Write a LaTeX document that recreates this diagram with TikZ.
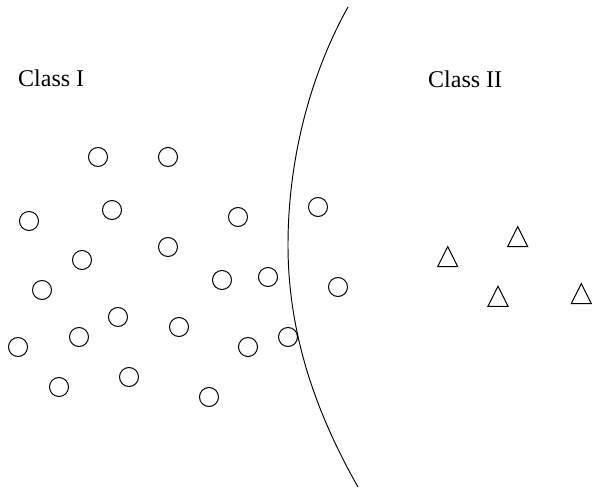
\documentclass[tikz,border=0pt]{standalone}
\usepackage{fontspec}
\setmainfont{Liberation Serif}
\begin{document}
\begin{tikzpicture}[x=1pt,y=-1pt,
  dot/.style={draw,circle,minimum size=19pt,inner sep=0pt,line width=1pt},
  tri/.style={draw,line width=1pt},
  bound/.style={draw,line width=0.95pt},
  lbl/.style={font=\fontsize{24}{29}\selectfont,anchor=base west,inner sep=0pt}]
\useasboundingbox (0,0) rectangle (592,489);
% labels
\node[lbl] (c1) at (18,87) {Class I};
\node[lbl] (c2) at (428,88) {Class II};
% class I points
\foreach \n/\x/\y in {a/98/157, b/168/157, c/29/221, d/112/210, e/238/217, f/318/207,
  g/82/260, h/168/247, i/42/290, j/222/280, k/268/277, l/338/287, m/118/317,
  n/179/327, o/79/337, p/18/347, q/248/347, r/288/337, s/59/387, t/129/377, u/209/397}
  \node[dot] (p\n) at (\x,\y) {};
% class II points
\foreach \n/\x/\y in {1/447.7/256.7, 2/517.7/236.7, 3/498/296.3, 4/581.3/293.7}{
  \coordinate (t\n) at (\x,\y);
  \draw[tri] ([shift={(-10,10)}]t\n) -- ([shift={(0,-10)}]t\n) -- ([shift={(10,10)}]t\n) -- cycle;
}
% decision boundary
\coordinate (btop) at (348,7);
\coordinate (bmid) at (288,245);
\coordinate (bbot) at (358,487);
\draw[bound] (btop) .. controls (310,75) and (288,160) .. (bmid)
  .. controls (288,340) and (320,420) .. (bbot);
\end{tikzpicture}
\end{document}
